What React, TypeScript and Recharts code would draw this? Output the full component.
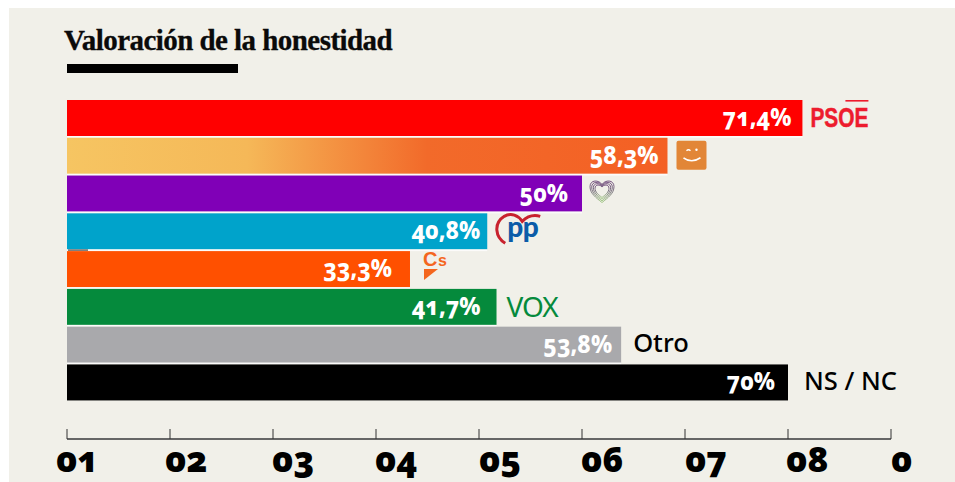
import React from "react";
import { BarChart, Bar, XAxis, YAxis, LabelList } from "recharts";

const categories = ["PSOE", "Podemos", "Sumar", "PP", "Cs", "VOX", "Otro", "NS / NC", ""];
const values: (number | null)[] = [71.4, 58.3, 50, 40.8, 33.3, 41.7, 53.8, 70, null];
const valueLabels = ["71,4%", "58,3%", "50%", "40,8%", "33,3%", "41,7%", "53,8%", "70%", ""];
const colors = ["#FF0000", "url(#gradPodemos)", "#8000B7", "#00A3CB", "#FF5000", "#058A3C", "#A9A9AC", "#000000", "#000000"];
const axisTicks = [0, 10, 20, 30, 40, 50, 60, 70, 80];
const axisLabels = ["01", "02", "03", "04", "05", "06", "07", "08", "0"];
const axisLabelShift = [-11, -5, -1, -1, 0, -1, 0, -2, 0];
const labelInset = [11, 9, 14, 7, 18, 16, 9, 13, 0];

const rows = categories.map((name, i) => ({ name, value: values[i] }));

const NUM_FONT = "'Noto Sans', 'Open Sans', sans-serif";

function BarShape(props: any) {
  const { x, y, width, height, index } = props;
  return (
    <g>
      {index === 1 && (
        <defs>
          <linearGradient id="gradPodemos" x1="0" y1="0" x2="1" y2="0">
            <stop offset="0%" stopColor="#F6C562" />
            <stop offset="30%" stopColor="#F5B858" />
            <stop offset="60%" stopColor="#F26A2A" />
            <stop offset="100%" stopColor="#F46024" />
          </linearGradient>
        </defs>
      )}
      <rect x={x} y={y} width={width} height={height} fill={colors[index]} />
      {index < 7 && <rect x={x} y={y + height} width={width} height={1.8} fill="#FFFFFF" opacity={0.75} />}
      {index === 3 && <rect x={x + 1} y={y + height} width={20} height={1.5} fill="#666666" />}
    </g>
  );
}

function Logo({ index, x, y }: { index: number; x: number; y: number }) {
  switch (index) {
    case 0:
      return (
        <g>
          <text x={x + 8} y={y + 27} fontFamily="'Liberation Sans'" fontWeight={700} fontSize={27} fill="#ED1C2E" stroke="#ED1C2E" strokeWidth={0.5} textLength={58} lengthAdjust="spacingAndGlyphs">PSOE</text>
          <rect x={x + 43} y={y} width={23} height={1.6} fill="#ED1C2E" />
        </g>
      );
    case 1:
      return (
        <g>
          <rect x={x + 9} y={y + 3} width={30} height={29} rx={2} fill="#E28637" />
          <path d={`M${x + 16} ${y + 20} Q${x + 24} ${y + 26} ${x + 33} ${y + 20}`} stroke="#FFFFFF" strokeWidth={1.6} fill="none" />
          <path d={`M${x + 19} ${y + 13} Q${x + 21} ${y + 11} ${x + 23} ${y + 13}`} stroke="#FFFFFF" strokeWidth={1.3} fill="none" />
          <circle cx={x + 29} cy={y + 12} r={1.2} fill="#FFFFFF" />
        </g>
      );
    case 2: {
      const cx = x + 20;
      const heart = (s: number) =>
        `M${cx} ${y + 15 + 12 * s} C${cx - 6 * s} ${y + 15 + 7 * s} ${cx - 12 * s} ${y + 15 + 3 * s} ${cx - 12 * s} ${y + 15 - 4 * s} C${cx - 12 * s} ${y + 15 - 11 * s} ${cx - 3 * s} ${y + 15 - 11 * s} ${cx} ${y + 15 - 6 * s} C${cx + 3 * s} ${y + 15 - 11 * s} ${cx + 12 * s} ${y + 15 - 11 * s} ${cx + 12 * s} ${y + 15 - 4 * s} C${cx + 12 * s} ${y + 15 + 3 * s} ${cx + 6 * s} ${y + 15 + 7 * s} ${cx} ${y + 15 + 12 * s}Z`;
      return (
        <g fill="none" strokeWidth={1}>
          <defs>
            <linearGradient id="gradHeart" x1="0" y1="0" x2="0" y2="1">
              <stop offset="0%" stopColor="#74507F" />
              <stop offset="55%" stopColor="#7D7A80" />
              <stop offset="100%" stopColor="#A6CC8A" />
            </linearGradient>
          </defs>
          <path d={heart(1)} stroke="url(#gradHeart)" />
          <path d={heart(0.86)} stroke="url(#gradHeart)" />
          <path d={heart(0.72)} stroke="url(#gradHeart)" />
          <path d={heart(0.58)} stroke="url(#gradHeart)" />
        </g>
      );
    }
    case 3:
      return (
        <g>
          <path d={`M${x + 18} ${y + 30} C${x + 8} ${y + 24} ${x + 6} ${y + 10} ${x + 17} ${y + 3} C${x + 24} ${y - 1} ${x + 31} ${y + 2} ${x + 35} ${y + 8} C${x + 40} ${y + 3} ${x + 46} ${y + 1} ${x + 53} ${y + 3}`} stroke="#C8222E" strokeWidth={3} fill="none" />
          <text x={x + 20} y={y + 24} fontFamily="Lato" fontWeight={900} fontSize={28} fill="#0B5CA8" letterSpacing={-0.5}>pp</text>
        </g>
      );
    case 4:
      return (
        <g>
          <text x={x + 13} y={y + 15} fontFamily="'Liberation Sans'" fontWeight={700} fontSize={20} fill="#F4661E">C</text>
          <text x={x + 28} y={y + 15} fontFamily="'Liberation Sans'" fontWeight={700} fontSize={16} fill="#F4661E">s</text>
          <path d={`M${x + 14} ${y + 18} L${x + 28} ${y + 18} L${x + 14} ${y + 29}Z`} fill="#F4661E" />
        </g>
      );
    case 5:
      return (
        <text x={x + 10} y={y + 28} fontFamily="'Noto Sans'" fontWeight={400} fontSize={28} fill="#058A3C" letterSpacing={-1}>VOX</text>
      );
    case 6:
      return <text x={x + 12} y={y + 25} fontFamily="'Noto Sans'" fontWeight={500} fontSize={25.5} fill="#000">Otro</text>;
    case 7:
      return <text x={x + 16} y={y + 26} fontFamily="'Noto Sans'" fontWeight={500} fontSize={25.5} fill="#000">NS / NC</text>;
    default:
      return null;
  }
}

function BarLabel(props: any) {
  const { x, y, width, index } = props;
  if (index > 7 || x == null) return null;
  return (
    <g>
      <text
        transform={`translate(${x + width - labelInset[index]} ${y + 26}) scale(0.9 1)`}
        textAnchor="end"
        fontFamily={NUM_FONT}
        fontWeight={800}
        fontSize={25.5}
        fill="#FFFFFF"
        style={{ fontFeatureSettings: "'onum'" }}
      >
        {valueLabels[index]}
      </text>
      <Logo index={index} x={x + width} y={y} />
    </g>
  );
}

function AxisTick(props: any) {
  const { x, y, index } = props;
  const axisY = 439;
  return (
    <g>
      <line x1={x} x2={x} y1={axisY - 10} y2={axisY} stroke="#333333" strokeWidth={1} />
      <text
        x={x + axisLabelShift[index]}
        y={y + 25}
        fontFamily={NUM_FONT}
        fontWeight={900}
        fontSize={35}
        fill="#000"
        style={{ fontFeatureSettings: "'onum'" }}
      >
        {axisLabels[index]}
      </text>
    </g>
  );
}

export default function App() {
  return (
    <div style={{ position: "absolute", left: 0, top: 0, width: 955, height: 482, background: "#FFFFFF", overflow: "hidden" }}>
      <div style={{ position: "absolute", left: 9, top: 8, right: 0, bottom: 0, background: "#F1F0E9" }} />
      <div style={{ position: "absolute", left: 64, top: 24, fontFamily: "'Liberation Serif'", fontWeight: 700, fontSize: 29, letterSpacing: -0.55, color: "#0A0A0A", lineHeight: "32px", whiteSpace: "nowrap", WebkitTextStroke: "0.3px #0A0A0A" }}>
        Valoración de la honestidad
      </div>
      <div style={{ position: "absolute", left: 67, top: 64, width: 171, height: 9, background: "#000" }} />
      <div style={{ position: "absolute", left: 0, top: 0 }}>
        <BarChart
          width={955}
          height={482}
          data={rows}
          layout="vertical"
          margin={{ top: 99, right: 64, bottom: 0, left: 67 }}
          barSize={36}
        >
          <XAxis
            type="number"
            domain={[0, 80]}
            ticks={axisTicks}
            interval={0}
            height={43}
            tick={<AxisTick />}
            tickLine={false}
            axisLine={{ stroke: "#666666", strokeWidth: 2 }}
          />
          <YAxis
            type="category"
            dataKey="name"
            width={0}
            tick={false}
            tickLine={false}
            axisLine={{ stroke: "#333333", strokeWidth: 1 }}
          />
          <Bar dataKey="value" isAnimationActive={false} shape={<BarShape />}>
            <LabelList dataKey="value" content={<BarLabel />} />
          </Bar>
        </BarChart>
      </div>
    </div>
  );
}
